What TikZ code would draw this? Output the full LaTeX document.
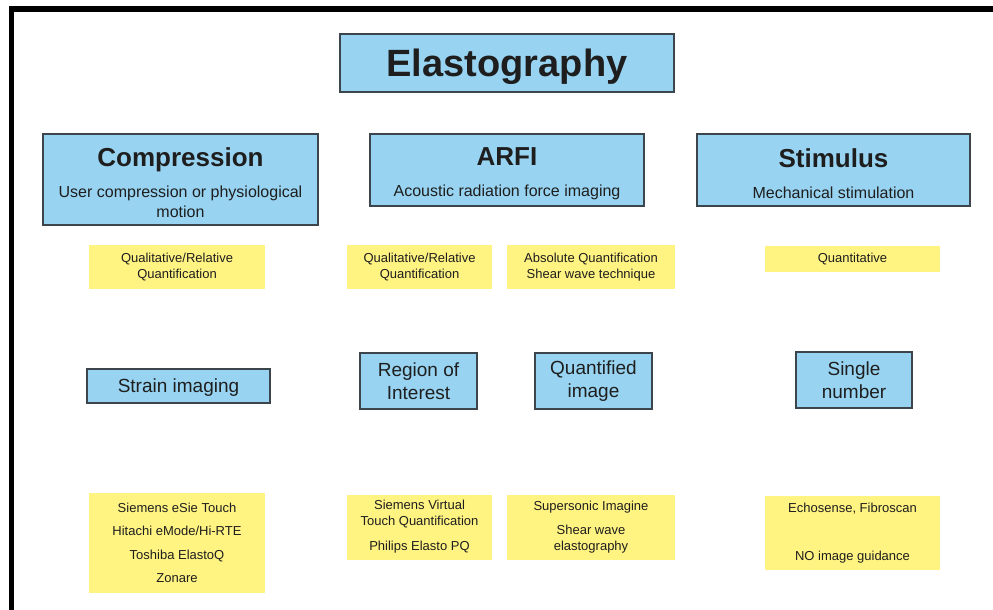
\documentclass[tikz,border=0pt]{standalone}
\usepackage{fontspec}
\setmainfont{Liberation Sans}
\usepackage{tikz}
\usetikzlibrary{positioning}

\definecolor{boxblue}{RGB}{152,212,241}
\definecolor{boxyellow}{RGB}{255,243,130}
\definecolor{boxline}{RGB}{60,68,76}
\definecolor{textdark}{RGB}{30,30,30}

\begin{document}
\begin{tikzpicture}[x=1pt,y=-1pt,
    blue/.style={draw=boxline,line width=1.1pt,fill=boxblue,text=textdark,
      inner sep=0pt,align=center},
    yellow/.style={fill=boxyellow,text=textdark,inner sep=0pt,align=center,
      font=\fontsize{13}{16}\selectfont},
    head/.style={blue,font=\fontsize{16}{20}\selectfont},
    mid/.style={blue,font=\fontsize{19}{23}\selectfont}]
\useasboundingbox (0,0) rectangle (993,610);
\fill[white] (0,0) rectangle (993,610);
\draw[line width=5.5pt] (11.5,610) -- (11.5,9) -- (993,9);

% title
\node[blue,minimum width=334pt,minimum height=58pt,text depth=0pt,
  font=\fontsize{38}{44}\selectfont\bfseries] (elasto) at (507,63) {Elastography};

% three methods
\node[head,minimum width=275pt,minimum height=91pt] (compr) at (180.5,179.5)
  {\rule{0pt}{26pt}{\fontsize{26}{30}\selectfont\bfseries Compression}\\[11pt]
   User compression or physiological\\ motion};
\node[head,minimum width=274pt,minimum height=72pt] (arfi) at (507,170)
  {\rule{0pt}{26pt}{\fontsize{26}{30}\selectfont\bfseries ARFI}\\[11pt]
   Acoustic radiation force imaging};
\node[head,minimum width=273pt,minimum height=72pt] (stim) at (833.5,170)
  {\rule{0pt}{26pt}{\fontsize{26}{30}\selectfont\bfseries Stimulus}\\[11pt]
   Mechanical stimulation};

% quantification
\node[yellow,minimum width=176pt,minimum height=44pt] (qualA) at (177,267)
  {Qualitative/Relative\\ Quantification};
\node[yellow,minimum width=145pt,minimum height=44pt] (qualB) at (419.5,267)
  {Qualitative/Relative\\ Quantification};
\node[yellow,minimum width=168pt,minimum height=44pt] (absq) at (591,267)
  {Absolute Quantification\\ Shear wave technique};
\node[yellow,minimum width=175pt,minimum height=26pt] (quant) at (852.5,259)
  {Quantitative};

% output
\node[mid,minimum width=183pt,minimum height=34pt,text depth=0pt] (strain) at (178.5,386)
  {Strain imaging};
\node[mid,minimum width=117pt,minimum height=56pt] (roi) at (418.5,381)
  {Region of\\ Interest};
\node[mid,minimum width=117pt,minimum height=56pt] (qimg) at (593.5,381)
  {Quantified\\ image};
\node[mid,minimum width=116pt,minimum height=56pt] (single) at (854,380)
  {Single\\ number};

% vendors
\node[yellow,minimum width=176pt,minimum height=100pt] (siem) at (177,543)
  {Siemens eSie Touch\\[7.5pt] Hitachi eMode/Hi-RTE\\[7.5pt]
   Toshiba ElastoQ\\[7.5pt] Zonare};
\node[yellow,minimum width=145pt,minimum height=65pt] (virt) at (419.5,527)
  {Siemens Virtual\\ Touch Quantification\\[9pt] Philips Elasto PQ};
\node[yellow,minimum width=168pt,minimum height=65pt] (super) at (591,527)
  {Supersonic Imagine\\[8pt] Shear wave\\ elastography};
\node[yellow,minimum width=175pt,minimum height=74pt] (echo) at (852.5,533)
  {Echosense, Fibroscan\\[32pt] NO image guidance};
\end{tikzpicture}
\end{document}
